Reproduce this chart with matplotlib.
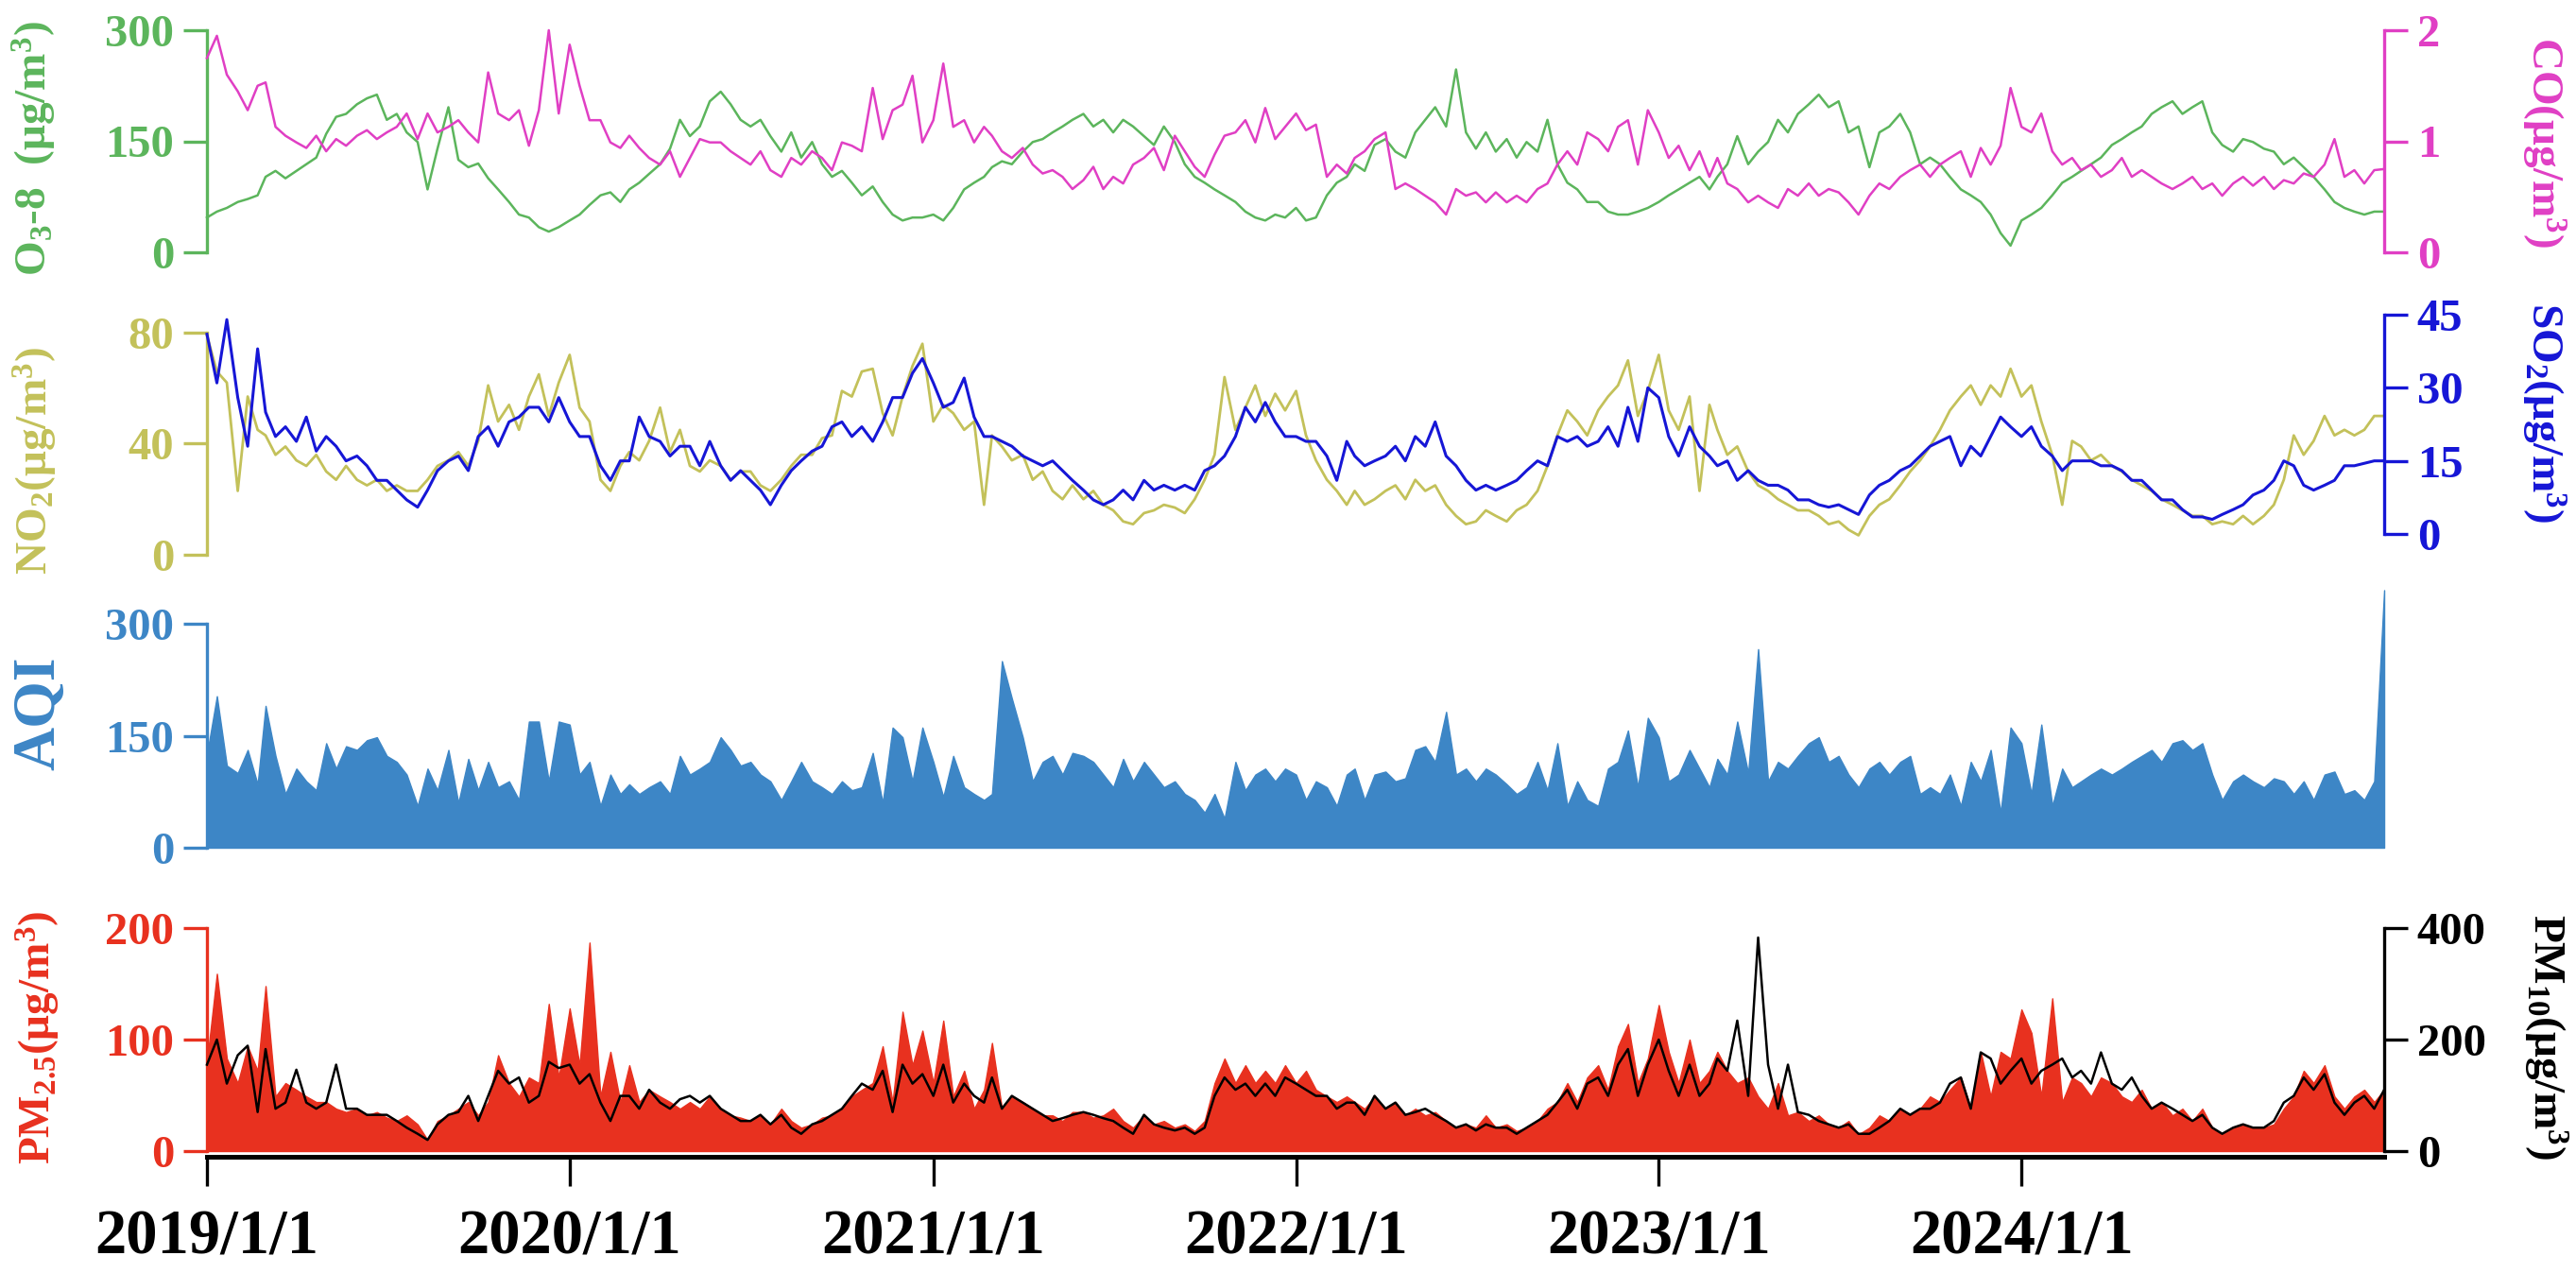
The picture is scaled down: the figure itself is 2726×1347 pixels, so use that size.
import numpy as np
import matplotlib
matplotlib.use('Agg')
import matplotlib.pyplot as plt

plt.rcParams['font.family'] = ['Liberation Serif', 'DejaVu Serif']
plt.rcParams['font.weight'] = 'bold'
plt.rcParams['mathtext.fontset'] = 'custom'
plt.rcParams['mathtext.rm'] = 'Liberation Serif:bold'
plt.rcParams['mathtext.it'] = 'Liberation Serif:bold:italic'
plt.rcParams['mathtext.bf'] = 'Liberation Serif:bold'

# ---------------- data (dekadal samples: day 1, 11, 21 of each month, plus 2024-12-31) ----------------
years = [2019, 2020, 2021, 2022, 2023, 2024]
dates = [np.datetime64(f'{y}-{m:02d}-{d:02d}') for y in years for m in range(1, 13) for d in (1, 11, 21)]
dates.append(np.datetime64('2024-12-31'))
dates = np.array(dates)

o3 = [47,55,60, 68,72,77, 102,110,100, 110,119,128, 160,183,187, 200,208,213, 179,187,162, 149,85,140, 196,125,115, 120,100,85, 68,51,47, 34,28,34,
      43,51,64, 77,81,68, 85,94,106, 119,140,179, 157,170,204, 217,200,179, 170,179,157, 136,162,128, 149,119,102, 110,94,77, 89,68,51, 43,47,47,
      51,43,60, 85,94,102, 115,123,119, 136,149,153, 162,170,179, 187,170,179, 162,179,170, 157,145,170, 149,119,102, 94,85,77, 68,55,47, 43,51,47,
      60,43,47, 77,94,102, 119,110,145, 153,136,128, 162,179,196, 170,247,162, 140,162,136, 153,128,149, 136,179,119, 94,85,68, 68,55,51, 51,55,60,
      68,77,85, 94,102,85, 102,119,157, 119,136,149, 179,162,187, 200,213,196, 204,162,170, 115,162,170, 187,162,119, 128,119,102, 85,77,68, 51,26,9,
      43,51,60, 77,94,102, 110,119,128, 145,153,162, 170,187,196, 204,187,196, 204,162,145, 136,153,149, 140,136,119, 128,115,102, 85,68,60, 55,51,55,
      55]

co = [1.75,1.95,1.6, 1.45,1.28,1.5, 1.53,1.13,1.05, 0.99,0.94,1.05, 0.91,1.02,0.96, 1.05,1.10,1.02, 1.08,1.13,1.25, 1.02,1.25,1.08, 1.13,1.19,1.08, 0.99,1.62,1.25, 1.19,1.28,0.96, 1.28,2.0,1.25,
      1.87,1.50,1.19, 1.19,0.99,0.94, 1.05,0.94,0.85, 0.79,0.91,0.68, 0.85,1.02,0.99, 0.99,0.91,0.85, 0.79,0.91,0.74, 0.68,0.85,0.79, 0.91,0.85,0.74, 0.99,0.96,0.91, 1.48,1.02,1.28, 1.33,1.59,0.99,
      1.19,1.70,1.13, 1.19,0.99,1.13, 1.05,0.91,0.85, 0.94,0.79,0.71, 0.74,0.68,0.57, 0.65,0.77,0.57, 0.68,0.62,0.79, 0.85,0.94,0.74, 1.05,0.91,0.77, 0.68,0.88,1.05, 1.08,1.19,0.99, 1.30,1.02,1.13,
      1.25,1.10,1.15, 0.68,0.79,0.71, 0.85,0.91,1.02, 1.08,0.57,0.62, 0.57,0.51,0.45, 0.34,0.57,0.51, 0.54,0.45,0.54, 0.45,0.51,0.45, 0.57,0.62,0.79, 0.91,0.79,1.08, 1.02,0.91,1.13, 1.19,0.79,1.28,
      1.08,0.85,0.96, 0.74,0.91,0.68, 0.85,0.62,0.57, 0.45,0.51,0.45, 0.40,0.57,0.51, 0.62,0.51,0.57, 0.54,0.45,0.34, 0.51,0.62,0.57, 0.68,0.74,0.79, 0.68,0.79,0.85, 0.91,0.68,0.94, 0.79,0.96,1.48,
      1.13,1.08,1.25, 0.91,0.79,0.85, 0.74,0.79,0.68, 0.74,0.85,0.68, 0.74,0.68,0.62, 0.57,0.62,0.68, 0.57,0.62,0.51, 0.62,0.68,0.60, 0.68,0.57,0.65, 0.62,0.71,0.68, 0.79,1.02,0.68, 0.74,0.62,0.74,
      0.75]

no2 = [79,66,62, 23,57,45, 43,36,39, 34,32,36, 30,27,32, 27,25,27, 23,25,23, 23,27,32, 34,37,32, 41,61,48, 54,45,57, 65,50,62,
       72,53,48, 27,23,32, 37,34,41, 53,37,45, 32,30,34, 32,27,30, 30,25,23, 27,32,36, 36,42,43, 59,57,66, 67,51,43, 57,68,76,
       48,54,51, 45,48,18, 43,39,34, 36,27,30, 23,20,25, 20,23,18, 16,12,11, 15,16,18, 17,15,20, 27,36,64, 45,53,61, 50,58,52,
       59,43,34, 27,23,18, 23,18,20, 23,25,20, 27,23,25, 18,14,11, 12,16,14, 12,16,18, 23,32,43, 52,48,43, 52,57,61, 70,50,59,
       72,52,45, 57,23,54, 45,36,39, 30,25,23, 20,18,16, 16,14,11, 12,9,7, 14,18,20, 25,30,34, 39,45,52, 57,61,54, 61,57,67,
       57,61,48, 36,18,41, 39,34,36, 32,30,27, 25,23,20, 18,16,14, 14,11,12, 11,14,11, 14,18,27, 43,36,41, 50,43,45, 43,45,50,
       50]

so2 = [41,31,44, 28,18,38, 25,20,22, 19,24,17, 20,18,15, 16,14,11, 11,9,7, 5.5,9,13, 15,16,13, 20,22,18, 23,24,26, 26,23,28,
       23,20,20, 14,11,15, 15,24,20, 19,16,18, 18,14,19, 14,11,13, 11,9,6, 10,13,15, 17,18,22, 23,20,22, 19,23,28, 28,33,36,
       31,26,27, 32,24,20, 20,19,18, 16,15,14, 15,13,11, 9,7,6, 7,9,7, 11,9,10, 9,10,9, 13,14,16, 20,26,23, 27,23,20,
       20,19,19, 16,11,19, 16,14,15, 16,18,15, 20,18,23, 16,14,11, 9,10,9, 10,11,13, 15,14,20, 19,20,18, 19,22,18, 26,19,30,
       28,20,16, 22,18,16, 14,15,11, 13,11,10, 10,9,7, 7,6,5.5, 6,5,4, 8,10,11, 13,14,16, 18,19,20, 14,18,16, 20,24,22,
       20,22,18, 16,13,15, 15,15,14, 14,13,11, 11,9,7, 7,5,3.5, 3.5,3,4, 5,6,8, 9,11,15, 14,10,9, 10,11,14, 14,14.5,15,
       15]

aqi = [125,203,110, 100,131,85, 190,123,72, 106,89,77, 140,106,136, 131,144,148, 123,115,98, 56,106,77, 131,60,119, 77,115,81, 89,64,169, 169,89,169,
       165,98,115, 56,98,72, 85,72,81, 89,72,123, 98,106,115, 148,131,110, 115,98,89, 64,89,115, 89,81,72, 89,77,81, 127,60,161, 148,89,161,
       115,68,123, 81,72,64, 72,250,200, 148,89,115, 123,98,127, 123,115,98, 81,119,89, 115,98,81, 89,72,64, 47,72,39, 115,77,98, 106,89,106,
       98,64,89, 81,56,98, 106,64,98, 102,89,93, 131,136,115, 182,98,106, 89,106,98, 85,72,81, 115,77,140, 56,89,64, 56,106,115, 157,81,174,
       148,89,98, 131,106,81, 119,98,169, 100,266,89, 115,106,123, 140,148,115, 123,98,81, 106,115,98, 115,123,72, 81,72,98, 56,115,89, 131,47,161,
       140,72,165, 56,106,81, 89,98,106, 98,106,115, 123,131,115, 140,144,131, 140,98,64, 89,98,89, 81,93,89, 72,89,64, 98,102,72, 77,64,89,
       345]

pm25 = [80,159,83, 61,94,72, 148,49,61, 55,49,44, 44,38,35, 38,32,35, 30,27,32, 24,10,27, 32,38,44, 32,44,86, 61,49,66, 61,132,66,
        128,77,187, 49,89,44, 77,44,55, 49,44,38, 44,38,49, 38,32,30, 27,32,24, 38,27,21, 24,30,32, 38,49,55, 61,94,44, 125,77,108,
        61,117,49, 72,38,55, 97,38,49, 44,38,32, 32,27,35, 35,30,32, 38,27,21, 32,24,27, 21,24,18, 27,61,83, 61,77,61, 72,61,77,
        61,72,55, 49,44,49, 44,38,49, 38,44,32, 38,32,35, 27,21,24, 21,32,21, 24,18,21, 27,38,44, 61,44,66, 77,55,94, 114,61,83,
        131,89,61, 100,61,72, 89,72,61, 66,49,38, 61,32,35, 27,32,24, 21,27,15, 21,32,27, 38,32,38, 49,44,55, 66,38,89, 49,89,83,
        127,106,49, 137,44,66, 61,49,66, 61,49,44, 55,38,44, 32,38,27, 38,21,15, 21,24,21, 21,24,38, 49,72,61, 77,49,38, 49,55,44,
        55]

pm10 = [155,200,121, 172,189,70, 183,76,87, 146,87,76, 87,155,76, 76,65,65, 65,54,42, 31,20,48, 65,70,99, 54,99,144, 121,132,87, 99,160,149,
        155,121,138, 87,54,99, 99,76,110, 87,76,93, 99,87,99, 76,65,54, 54,65,48, 65,42,31, 48,54,65, 76,99,121, 110,144,70, 155,121,138,
        99,155,87, 121,99,87, 132,76,99, 87,76,65, 54,59,65, 70,65,59, 54,42,31, 65,48,42, 37,42,31, 42,99,132, 110,121,99, 121,99,132,
        121,110,99, 99,76,87, 87,65,99, 76,87,65, 70,76,65, 54,42,48, 37,48,42, 42,31,42, 54,65,87, 110,76,121, 132,99,155, 183,99,155,
        200,144,99, 155,99,121, 166,144,234, 99,383,155, 76,155,70, 65,54,48, 42,48,31, 31,42,54, 76,65,76, 76,87,121, 132,76,177, 166,121,144,
        166,121,144, 155,166,132, 144,121,177, 121,110,132, 99,76,87, 76,65,54, 65,42,31, 42,48,42, 42,54,87, 99,132,110, 138,87,65, 87,99,76,
        110]

xtick_dates = [np.datetime64(f'{y}-01-01') for y in years]
xtick_labels = [f'{y}/1/1' for y in years]

# ---------------- styling ----------------
C_O3 = '#5cb55c'
C_CO = '#e03fc4'
C_NO2 = '#c3c15a'
C_SO2 = '#1616d6'
C_AQI = '#3d86c6'
C_PM25 = '#e8311f'
C_PM10 = '#000000'

W_PX, H_PX = 2726, 1347
fig = plt.figure(figsize=(W_PX / 100, H_PX / 100), dpi=100)

L_PX, R_PX = 219, 2523


def rect(top_px, bot_px):
    return [L_PX / W_PX, 1 - bot_px / H_PX, (R_PX - L_PX) / W_PX, (bot_px - top_px) / H_PX]


XMIN, XMAX = np.datetime64('2019-01-01'), np.datetime64('2024-12-31')
TICK_FS = 35
SPINE_W = 2.4


def style_axis(ax, side, color, ticks):
    for s in ['top', 'bottom', 'left', 'right']:
        ax.spines[s].set_visible(False)
    ax.spines[side].set_visible(True)
    ax.spines[side].set_color(color)
    ax.spines[side].set_linewidth(SPINE_W)
    ax.set_yticks(ticks)
    ax.yaxis.set_ticks_position(side)
    ax.tick_params(axis='y', direction='out', length=18, width=SPINE_W, color=color,
                   labelcolor=color, labelsize=TICK_FS, pad=7)
    ax.set_xlim(XMIN, XMAX)
    ax.set_xticks([])
    ax.patch.set_visible(False)


# Panel 1: O3-8 and CO
ax1 = fig.add_axes(rect(32, 267))
ax1.plot(dates, o3, color=C_O3, lw=1.8, clip_on=False)
ax1.set_ylim(0, 300)
style_axis(ax1, 'left', C_O3, [0, 150, 300])
ax1b = fig.add_axes(rect(32, 267))
ax1b.plot(dates, co, color=C_CO, lw=1.8, clip_on=False)
ax1b.set_ylim(0, 2)
style_axis(ax1b, 'right', C_CO, [0, 1, 2])

# Panel 2: NO2 and SO2
ax2 = fig.add_axes(rect(352, 587))
ax2.plot(dates, no2, color=C_NO2, lw=2.0, clip_on=False)
ax2.set_ylim(0, 80)
style_axis(ax2, 'left', C_NO2, [0, 40, 80])
ax2b = fig.add_axes(rect(333, 565))
ax2b.plot(dates, so2, color=C_SO2, lw=2.2, clip_on=False)
ax2b.set_ylim(0, 45)
style_axis(ax2b, 'right', C_SO2, [0, 15, 30, 45])

# Panel 3: AQI
ax3 = fig.add_axes(rect(660, 897))
poly = ax3.fill_between(dates, aqi, 0, color=C_AQI, lw=1.0, edgecolor=C_AQI)
poly.set_clip_on(False)
ax3.set_ylim(0, 300)
style_axis(ax3, 'left', C_AQI, [0, 150, 300])

# Panel 4: PM2.5 and PM10
ax4 = fig.add_axes(rect(982, 1218))
poly4 = ax4.fill_between(dates, pm25, 0, color=C_PM25, lw=1.0, edgecolor=C_PM25)
poly4.set_clip_on(False)
ax4.set_ylim(0, 200)
style_axis(ax4, 'left', C_PM25, [0, 100, 200])
ax4b = fig.add_axes(rect(982, 1218))
ax4b.plot(dates, pm10, color=C_PM10, lw=1.8, clip_on=False)
ax4b.set_ylim(0, 400)
style_axis(ax4b, 'right', C_PM10, [0, 200, 400])

ax4.spines['bottom'].set_visible(True)
ax4.spines['bottom'].set_color('black')
ax4.spines['bottom'].set_linewidth(3.6)
ax4.spines['bottom'].set_position(('outward', 4))
ax4.set_xticks(xtick_dates)
ax4.set_xticklabels(xtick_labels)
ax4.tick_params(axis='x', direction='out', length=22, width=2.4, color='black',
                labelsize=48, pad=18, labelcolor='black')


def px(x, y):
    return x / W_PX, 1 - y / H_PX


LAB_FS = 34
fig.text(*px(37, 157), 'O$_3$-8  (μg/m$^3$)', rotation=90, ha='center', va='center',
         color=C_O3, fontsize=LAB_FS, fontweight='bold')
fig.text(*px(38, 487), 'NO$_2$(μg/m$^3$)', rotation=90, ha='center', va='center',
         color=C_NO2, fontsize=LAB_FS, fontweight='bold')
fig.text(*px(42, 755), 'AQI', rotation=90, ha='center', va='center',
         color=C_AQI, fontsize=46, fontweight='bold')
fig.text(*px(40, 1098), 'PM$_{2.5}$(μg/m$^3$)', rotation=90, ha='center', va='center',
         color=C_PM25, fontsize=LAB_FS, fontweight='bold')
fig.text(*px(2692, 151), 'CO(μg/m$^3$)', rotation=270, ha='center', va='center',
         color=C_CO, fontsize=LAB_FS, fontweight='bold')
fig.text(*px(2692, 437), 'SO$_2$(μg/m$^3$)', rotation=270, ha='center', va='center',
         color=C_SO2, fontsize=LAB_FS, fontweight='bold')
fig.text(*px(2693, 1097), 'PM$_{10}$(μg/m$^3$)', rotation=270, ha='center', va='center',
         color=C_PM10, fontsize=LAB_FS, fontweight='bold')

fig.savefig('out.png', dpi=100)
